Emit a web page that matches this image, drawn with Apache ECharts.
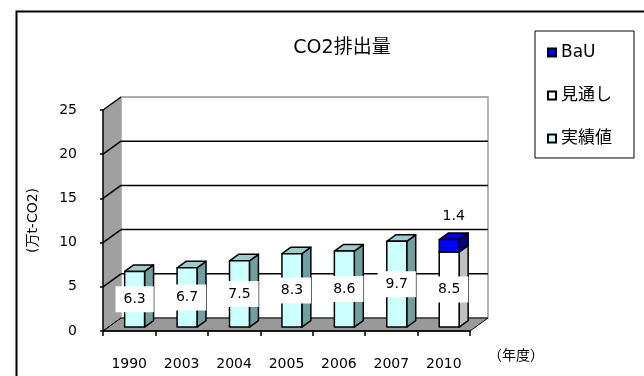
<!DOCTYPE html>
<html>
<head>
<meta charset="utf-8">
<script src="https://cdn.jsdelivr.net/npm/echarts@6/dist/echarts.min.js"></script>
<style>
  html, body { margin: 0; padding: 0; background: #fff; }
  #chart { width: 644px; height: 376px; }
</style>
</head>
<body>
<div id="chart"></div>
<script>
// CO2 emissions by fiscal year (10,000 t-CO2)
const categories = ['1990', '2003', '2004', '2005', '2006', '2007', '2010'];
const actual  = [6.3, 6.7, 7.5, 8.3, 8.6, 9.7, null]; // 実績値
const outlook = [null, null, null, null, null, null, 8.5]; // 見通し
const bau     = [null, null, null, null, null, null, 1.4]; // BaU (stacked on 見通し)
const yMax = 25;
const yStep = 5;

const FONT = "'DejaVu Sans', 'Noto Sans CJK JP', sans-serif";

// pseudo-3D geometry: depth offset of the back wall, and where bars sit in that depth
const DX = 18, DY = -13;
const BAR_FRONT = 0.3, BAR_DEPTH = 0.5, BAR_WIDTH = 0.38;

function wallRenderer(params, api) {
  const cs = params.coordSys;
  const x0 = cs.x, x1 = cs.x + cs.width;
  const yv = v => api.coord([0, v])[1];
  const y0 = yv(0), yTop = yv(yMax);
  const children = [
    { // back wall
      type: 'polygon',
      shape: { points: [[x0 + DX, yTop + DY], [x1 + DX, yTop + DY], [x1 + DX, y0 + DY], [x0 + DX, y0 + DY]] },
      style: { fill: '#ffffff', stroke: '#a0a0a0', lineWidth: 1.5 }
    },
    { // side wall
      type: 'polygon',
      shape: { points: [[x0, y0], [x0, yTop], [x0 + DX, yTop + DY], [x0 + DX, y0 + DY]] },
      style: { fill: '#a0a0a0', stroke: 'none' }
    },
    { // floor
      type: 'polygon',
      shape: { points: [[x0, y0], [x1, y0], [x1 + DX, y0 + DY], [x0 + DX, y0 + DY]] },
      style: { fill: '#999999', stroke: '#000', lineWidth: 1 }
    },
    { // dashed floor edge along the side wall
      type: 'line',
      shape: { x1: x0, y1: y0, x2: x0 + DX, y2: y0 + DY },
      style: { stroke: '#000', lineWidth: 1, lineDash: [3, 2] }
    }
  ];
  for (let v = yStep; v <= yMax; v += yStep) {
    const y = yv(v);
    children.push({
      type: 'line',
      shape: { x1: x0, y1: y, x2: x0 + DX, y2: y + DY },
      style: { stroke: '#000', lineWidth: 1.5 }
    });
    children.push({
      type: 'line',
      shape: { x1: x0 + DX, y1: y + DY, x2: x1 + DX, y2: y + DY },
      style: { stroke: v === yMax ? '#a0a0a0' : '#000', lineWidth: v === yMax ? 1 : 1.5 }
    });
  }
  return { type: 'group', children: children };
}

function barRenderer(colors, labelMode) {
  return function (params, api) {
    const i = api.value(0), lo = api.value(1), hi = api.value(2);
    const base = api.coord([i, 0]);
    const bw = api.size([1, 0])[0] * BAR_WIDTH;
    const cx = base[0] + BAR_FRONT * DX;
    const oy = BAR_FRONT * DY;
    const yLo = api.coord([i, lo])[1] + oy;
    const yHi = api.coord([i, hi])[1] + oy;
    const bx = BAR_DEPTH * DX, by = BAR_DEPTH * DY;
    const l = cx - bw / 2, r = cx + bw / 2;
    const edge = { stroke: '#000', lineWidth: 1.5, lineJoin: 'round' };
    const children = [
      { type: 'polygon', shape: { points: [[r, yHi], [r + bx, yHi + by], [r + bx, yLo + by], [r, yLo]] },
        style: Object.assign({ fill: colors.side }, edge) },
      { type: 'polygon', shape: { points: [[l, yHi], [l + bx, yHi + by], [r + bx, yHi + by], [r, yHi]] },
        style: Object.assign({ fill: colors.top }, edge) },
      { type: 'rect', shape: { x: l, y: yHi, width: bw, height: yLo - yHi },
        style: Object.assign({ fill: colors.front }, edge) }
    ];
    const text = (hi - lo).toFixed(1);
    if (labelMode === 'center') {
      children.push({
        type: 'text', z2: 10,
        style: {
          x: cx, y: (yLo + yHi) / 2, text: text, align: 'center', verticalAlign: 'middle',
          fill: '#000', font: '14px ' + FONT, backgroundColor: '#fff', padding: [6, 8]
        }
      });
    } else {
      children.push({
        type: 'text', z2: 10,
        style: {
          x: cx + bx / 2, y: yHi + by - 17, text: text, align: 'center', verticalAlign: 'middle',
          fill: '#000', font: '14px ' + FONT
        }
      });
    }
    return { type: 'group', children: children };
  };
}

const actualData = actual.map((v, i) => v == null ? null : [i, 0, v]).filter(Boolean);
const outlookData = outlook.map((v, i) => v == null ? null : [i, 0, v]).filter(Boolean);
const bauData = bau.map((v, i) => v == null ? null : [i, outlook[i] || 0, (outlook[i] || 0) + v]).filter(Boolean);

const chart = echarts.init(document.getElementById('chart'), null, { renderer: 'canvas' });
chart.setOption({
  backgroundColor: '#fff',
  animation: false,
  title: {
    text: 'CO2排出量',
    left: 337, top: 34, textAlign: 'center',
    textStyle: { fontFamily: FONT, fontSize: 19, fontWeight: 'normal', color: '#000' }
  },
  legend: {
    orient: 'vertical',
    left: 535, top: 31,
    padding: [13, 22, 11, 12],
    itemGap: 26,
    itemWidth: 8, itemHeight: 8,
    icon: 'rect',
    borderColor: '#000', borderWidth: 1,
    selectedMode: false,
    textStyle: { fontFamily: FONT, fontSize: 17, color: '#000' },
    data: [
      { name: 'BaU', itemStyle: { color: '#0000ff', borderColor: '#000', borderWidth: 2 } },
      { name: '見通し', itemStyle: { color: '#ffffff', borderColor: '#000', borderWidth: 2 } },
      { name: '実績値', itemStyle: { color: '#ccffff', borderColor: '#000', borderWidth: 2 } }
    ]
  },
  graphic: [{
    type: 'rect', left: 14, top: 9, z: -1,
    shape: { width: 700, height: 400 },
    style: { fill: 'none', stroke: '#000', lineWidth: 2 }
  }],
  grid: { left: 103, right: 174, top: 110, bottom: 45 },
  xAxis: {
    type: 'category',
    data: categories,
    z: 10,
    name: '（年度）',
    nameLocation: 'end',
    nameGap: 18,
    nameTextStyle: { fontFamily: FONT, fontSize: 14, color: '#000', verticalAlign: 'top', padding: [18, 0, 0, 0] },
    axisLine: { lineStyle: { color: '#000', width: 1.5 } },
    axisTick: { show: true, length: 5, lineStyle: { color: '#000', width: 1.5 } },
    axisLabel: { margin: 26, fontFamily: FONT, fontSize: 14, color: '#000' }
  },
  yAxis: {
    type: 'value',
    min: 0, max: yMax, interval: yStep,
    z: 10,
    name: '(万t-CO2)',
    nameLocation: 'middle',
    nameRotate: 90,
    nameGap: 63,
    nameTextStyle: { fontFamily: FONT, fontSize: 14, color: '#000' },
    axisLine: { show: true, lineStyle: { color: '#000', width: 1.5 } },
    axisTick: { show: true, length: 3, lineStyle: { color: '#000', width: 1.5 } },
    axisLabel: { margin: 26, fontFamily: FONT, fontSize: 14, color: '#000' },
    splitLine: { show: false }
  },
  series: [
    { type: 'custom', name: 'walls', z: 1, clip: false, silent: true,
      renderItem: wallRenderer, data: [[0, 0, 0]], encode: { x: 0, y: 2 } },
    { type: 'custom', name: '実績値', z: 3, clip: false,
      itemStyle: { color: '#ccffff' },
      renderItem: barRenderer({ front: '#ccffff', top: '#9ccccc', side: '#6f9f9f' }, 'center'),
      data: actualData, encode: { x: 0, y: 2 } },
    { type: 'custom', name: '見通し', z: 3, clip: false,
      itemStyle: { color: '#ffffff' },
      renderItem: barRenderer({ front: '#ffffff', top: '#e0e0e0', side: '#c0c0c0' }, 'center'),
      data: outlookData, encode: { x: 0, y: 2 } },
    { type: 'custom', name: 'BaU', z: 3, clip: false,
      itemStyle: { color: '#0000ff' },
      renderItem: barRenderer({ front: '#0000ff', top: '#0000cc', side: '#000080' }, 'above'),
      data: bauData, encode: { x: 0, y: 2 } }
  ]
});
</script>
</body>
</html>
